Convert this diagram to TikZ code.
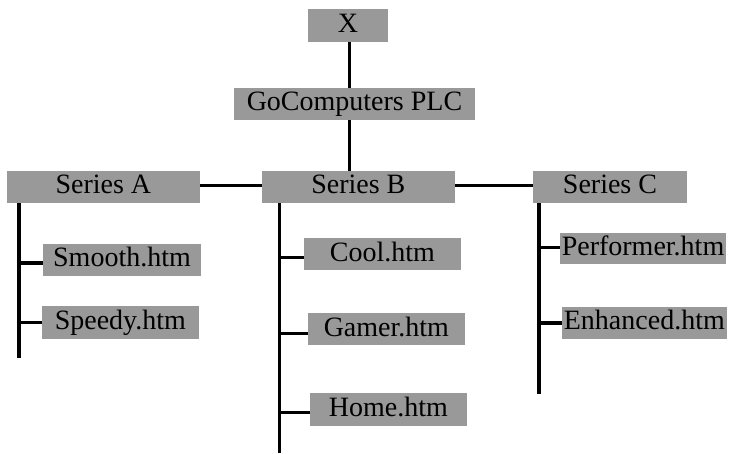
\documentclass[tikz,border=0pt]{standalone}
\usepackage{fontspec}
\setmainfont{Liberation Serif}
\definecolor{boxgray}{RGB}{153,153,153}
\begin{document}
\begin{tikzpicture}[x=1pt,y=-1pt,
  box/.style={fill=boxgray, inner sep=0pt, text height=19pt, text depth=5.5pt,
    font=\fontsize{28}{32}\selectfont, text=black},
  link/.style={line width=3.2pt, black}]
\useasboundingbox (0,0) rectangle (730,454);
% nodes
\node[box, minimum width=80pt,    minimum height=32.7pt] (X)  at (348,25.35)   {X};
\node[box, minimum width=241pt,   minimum height=31.5pt] (Go) at (354.5,103.8) {GoComputers PLC};
\node[box, minimum width=193.3pt, minimum height=32.3pt] (A)  at (103.35,187.15) {Series A};
\node[box, minimum width=192.7pt, minimum height=32.3pt] (B)  at (358.35,187.15) {Series B};
\node[box, minimum width=153.4pt, minimum height=32.3pt] (C)  at (610,187.15)  {Series C};
\node[box, minimum width=158pt,   minimum height=32pt]   (A1) at (122,260)     {Smooth.htm};
\node[box, minimum width=157.3pt, minimum height=32.7pt] (A2) at (120.35,322.35) {Speedy.htm};
\node[box, minimum width=157pt,   minimum height=32pt]   (B1) at (382.5,254.3) {Cool.htm};
\node[box, minimum width=156.7pt, minimum height=32pt]   (B2) at (386.35,329.3) {Gamer.htm};
\node[box, minimum width=156.7pt, minimum height=32.4pt] (B3) at (388.35,409.5) {Home.htm};
\node[box, minimum width=166pt,   minimum height=31.3pt] (C1) at (643,248.35)  {Performer.htm};
\node[box, minimum width=164.7pt, minimum height=32.6pt] (C2) at (644.35,323)  {Enhanced.htm};
% trunk coordinates
\coordinate (T)  at (349.3,0);
\coordinate (Ae) at (19,358.3);
\coordinate (Be) at (279.3,453.3);
\coordinate (Ce) at (539,394);
% connectors
\draw[link] (T |- X.south) -- (T |- Go.north);
\draw[link] (T |- Go.south) -- (T |- B.north);
\draw[link] ([yshift=1.5pt]A.east) -- ([yshift=1.5pt]B.west);
\draw[link] ([yshift=1.5pt]B.east) -- ([yshift=1.5pt]C.west);
\draw[link] (Ae |- A.south) -- (Ae);
\draw[link] (Be |- B.south) -- (Be);
\draw[link] (Ce |- C.south) -- (Ce);
\draw[link] ([yshift=-3pt]Ae |- A1.west) -- ([yshift=-3pt]A1.west);
\draw[link] (Ae |- A2.west) -- (A2.west);
\draw[link] ([yshift=-3.5pt]Be |- B1.west) -- ([yshift=-3.5pt]B1.west);
\draw[link] ([yshift=-4pt]Be |- B2.west) -- ([yshift=-4pt]B2.west);
\draw[link] ([yshift=-3pt]Be |- B3.west) -- ([yshift=-3pt]B3.west);
\draw[link] ([yshift=1pt]Ce |- C1.west) -- ([yshift=1pt]C1.west);
\draw[link] (Ce |- C2.west) -- (C2.west);
\end{tikzpicture}
\end{document}
